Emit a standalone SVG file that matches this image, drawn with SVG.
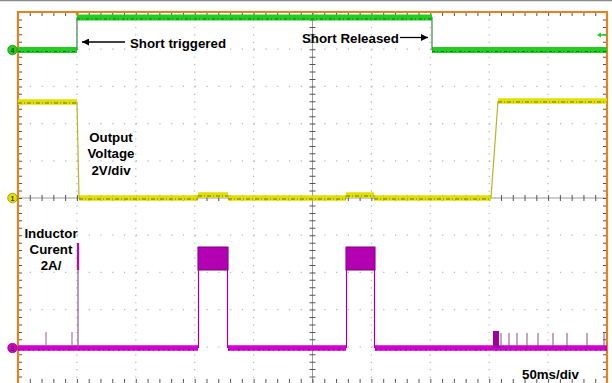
<svg xmlns="http://www.w3.org/2000/svg" width="612" height="383" viewBox="0 0 612 383">
<style>
.gh{stroke:#b4b4b4;stroke-width:1.2;stroke-dasharray:1.2 10.58;fill:none}
.gv{stroke:#b4b4b4;stroke-width:1.2;stroke-dasharray:1.2 6.24;fill:none}
.tk{stroke:#555;fill:none}
.frame{stroke:#e8801e;stroke-width:2.2;fill:none}
.lbl{font-family:"Liberation Sans",Arial,sans-serif;font-weight:bold;font-size:13.3px;fill:#000}
.mk{font-family:"Liberation Sans",Arial,sans-serif;font-weight:bold;font-size:7px;text-anchor:middle}
.edge{stroke-width:1.2;fill:none}
</style>
<defs>
<marker id="ah" viewBox="0 0 10 10" refX="10" refY="5" markerWidth="10" markerHeight="7" markerUnits="userSpaceOnUse" orient="auto"><path d="M0,0 L10,5 L0,10 z" fill="#000"/></marker>
</defs>
<rect x="0" y="0" width="612" height="383" fill="#fff"/>
<line x1="0" y1="0.5" x2="612" y2="0.5" stroke="#8a8a8a" stroke-width="1.5"/>
<g id="grid">
<path class="gv" d="M76.9,12V384M135.8,12V384M194.7,12V384M253.6,12V384M371.4,12V384M430.3,12V384M489.2,12V384M548.1,12V384"/>
<path class="gh" d="M18,49.2H607M18,86.4H607M18,123.6H607M18,160.8H607M18,235.2H607M18,272.4H607M18,309.6H607M18,346.8H607"/>
<line x1="312.5" y1="12" x2="312.5" y2="384" stroke="#9a9a9a" stroke-width="1"/>
<line x1="18" y1="198" x2="607" y2="198" stroke="#9a9a9a" stroke-width="1"/>
<line class="tk" x1="312.5" y1="12" x2="312.5" y2="384" stroke-width="6" stroke-dasharray="1 6.44"/>
<line class="tk" x1="18" y1="198" x2="607" y2="198" stroke-width="6" stroke-dasharray="1 10.78"/>
<line class="tk" x1="18" y1="14" x2="607" y2="14" stroke-width="4" stroke-dasharray="1 10.78"/>
<line class="tk" x1="18" y1="381" x2="607" y2="381" stroke-width="4" stroke-dasharray="1 10.78"/>
<line class="tk" x1="20" y1="12" x2="20" y2="384" stroke-width="4" stroke-dasharray="1 6.44"/>
<line class="tk" x1="605" y1="12" x2="605" y2="384" stroke-width="4" stroke-dasharray="1 6.44"/>
<path class="frame" d="M18,390V12H607V390"/>
</g>
<g id="trigger-marker"><path d="M74.5,11 L80,11 L77.2,17 z" fill="#e8801e"/></g>
<g id="ch4-green">
<path d="M18,50H77M77,17.5H432M432,50H607" stroke="#22cc22" stroke-width="6" fill="none"/>
<path d="M18,51.5H77M77,19H432M432,51.5H607" stroke="#0c6e0c" stroke-width="0.9" stroke-dasharray="3 2 1 3" fill="none"/>
<path class="edge" d="M77,50V17M432,17V50" stroke="#3a8a3a"/>
<path d="M598,35H607" stroke="#1fd11f" stroke-width="1.5"/>
<path d="M597,35 L601,32.5 L601,37.5 z" fill="#1fd11f"/>
<circle cx="12.5" cy="50" r="4.8" fill="#1fd11f" stroke="#0c6e0c" stroke-width="0.6"/>
<text class="mk" x="12.5" y="52.5" fill="#0c4a0c">4</text>
</g>
<g id="ch1-yellow">
<path d="M18,102H77M79,198H198M198,195H228M228,198H346M346,195H374M374,198H491M498,101H607" stroke="#e0e000" stroke-width="5.5" fill="none"/>
<path d="M18,103H77M79,199H198M198,196H228M228,199H346M346,196H374M374,199H491M498,102H607" stroke="#6e6e00" stroke-width="1" stroke-dasharray="4 2 1 2" fill="none"/>
<path class="edge" d="M77,102L79,198M198,198V195M228,195V198M346,198V195M374,195V198M491,198L498,101" stroke="#b5b52a"/>
<circle cx="12.5" cy="198" r="4.8" fill="#e3e300" stroke="#6e6e00" stroke-width="0.6"/>
<text class="mk" x="12.5" y="200.5" fill="#3a3a00">1</text>
</g>
<g id="ch3-magenta">
<path d="M18,348H198M228,348H346M375,348H607" stroke="#d100d1" stroke-width="5.5" fill="none"/>
<path d="M18,350H198M228,350H346M375,350H607" stroke="#6a006a" stroke-width="0.8" stroke-dasharray="2 3 1 4" fill="none"/>
<rect x="198" y="247" width="30" height="23" fill="#b300b3" stroke="#7a007a" stroke-width="1"/>
<rect x="346" y="247" width="29" height="23" fill="#b300b3" stroke="#7a007a" stroke-width="1"/>
<path class="edge" d="M198.5,348V247M227.5,247V348M346.5,348V247M374.5,247V348" stroke="#a000a0"/>
<path d="M78,270V243" stroke="#c000c0" stroke-width="2.2"/>
<path d="M78,348V270" stroke="#8a5a8a" stroke-width="1.2"/>
<path d="M46,348V332M72,348V332" stroke="#8a4a8a" stroke-width="0.9"/>
<rect x="493" y="331" width="6" height="17" fill="#a000a0"/>
<path d="M501,348V333M509,348V333M517,348V333M527,348V333M538,348V333M553,348V333M567,348V333M587,348V333M604,348V333" stroke="#7a3a7a" stroke-width="0.9"/>
<circle cx="12.5" cy="348" r="4.8" fill="#d100d1" stroke="#6a006a" stroke-width="0.6"/>
<text class="mk" x="12.5" y="350.5" fill="#3a003a">3</text>
</g>
<g id="connectors">
<line x1="125" y1="42" x2="82" y2="42" stroke="#000" stroke-width="1.3" marker-end="url(#ah)"/>
<line x1="400" y1="37.5" x2="428" y2="37.5" stroke="#000" stroke-width="1.3" marker-end="url(#ah)"/>
</g>
<g id="label-short-triggered"><text class="lbl" x="130" y="47.5">Short triggered</text></g>
<g id="label-short-released"><text class="lbl" x="302" y="43">Short Released</text></g>
<g id="label-output-voltage">
<text class="lbl" text-anchor="middle" x="111" y="141.5">Output</text>
<text class="lbl" text-anchor="middle" x="111" y="158">Voltage</text>
<text class="lbl" text-anchor="middle" x="111" y="174.5">2V/div</text>
</g>
<g id="label-inductor-current">
<text class="lbl" text-anchor="middle" x="51" y="238">Inductor</text>
<text class="lbl" text-anchor="middle" x="51" y="254">Curent</text>
<text class="lbl" text-anchor="middle" x="51" y="270">2A/</text>
</g>
<g id="label-timebase"><text class="lbl" x="522" y="378.5">50ms/div</text></g>
</svg>
